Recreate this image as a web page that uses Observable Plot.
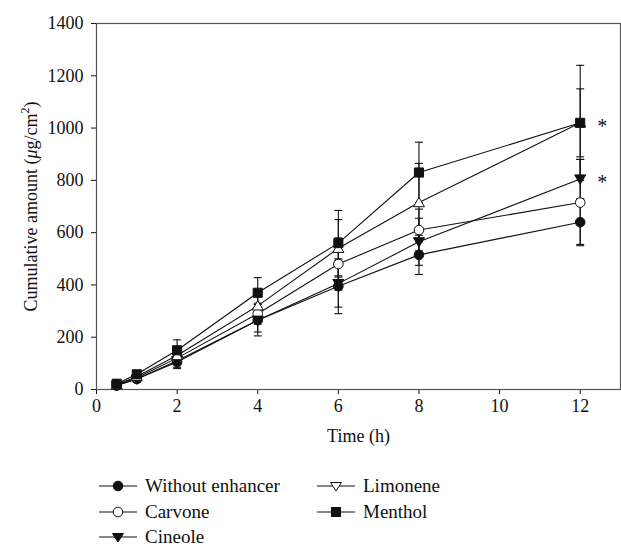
<!DOCTYPE html>
<html>
<head>
<meta charset="utf-8">
<script src="https://cdn.jsdelivr.net/npm/d3@7"></script>
<script src="https://cdn.jsdelivr.net/npm/@observablehq/plot@0.6"></script>
<style>
  body { margin: 0; background: #fff; font-family: "Liberation Serif", "DejaVu Serif", serif; }
  #chart { width: 621px; }
  .legend { display: grid; grid-template-columns: 218px 200px; margin-left: 99px; margin-top: 22px; row-gap: 1px; font-size: 19px; line-height: 22px; color: #111; }
  .legend div { display: flex; align-items: center; height: 24.5px; }
  .legend svg { margin-right: 2px; }
</style>
</head>
<body>
<div id="chart"></div>
<script>
const times = [0.5, 1, 2, 4, 6, 8, 12];
const seriesNames = ["Without enhancer", "Carvone", "Cineole", "Limonene", "Menthol"];
const withoutMean = [15, 40, 105, 265, 395, 515, 640];
const withoutErr  = [6, 12, 25, 60, 105, 75, 85];
const carvoneMean = [18, 45, 120, 290, 480, 610, 715];
const carvoneErr  = [6, 12, 25, 40, 100, 80, 165];
const cineoleMean = [15, 40, 110, 265, 405, 565, 805];
const cineoleErr  = [6, 12, 25, 45, 90, 90, 75];
const limoneneMean = [18, 50, 130, 320, 540, 715, 1020];
const limoneneErr  = [6, 12, 30, 45, 110, 150, 130];
const mentholMean = [22, 58, 150, 370, 560, 830, 1020];
const mentholErr  = [6, 14, 40, 58, 125, 116, 220];
const xTicks = [0, 2, 4, 6, 8, 10, 12];
const yTicks = [0, 200, 400, 600, 800, 1000, 1200, 1400];
const asterisks = [{t: 12, v: 1020, s: "*"}, {t: 12, v: 805, s: "*"}];

const means = [withoutMean, carvoneMean, cineoleMean, limoneneMean, mentholMean];
const errs = [withoutErr, carvoneErr, cineoleErr, limoneneErr, mentholErr];
const data = seriesNames.flatMap((name, i) => times.map((t, j) => ({
  series: name, t, v: means[i][j], lo: means[i][j] - errs[i][j], hi: means[i][j] + errs[i][j]
})));

const downTriangle = { draw(ctx, size) {
  const r = Math.sqrt(size / Math.PI) * 1.15;
  ctx.moveTo(-r, -r * 0.75); ctx.lineTo(r, -r * 0.75); ctx.lineTo(0, r * 0.95); ctx.closePath();
}};
const upTriangle = { draw(ctx, size) {
  const r = Math.sqrt(size / Math.PI) * 1.15;
  ctx.moveTo(-r, r * 0.75); ctx.lineTo(r, r * 0.75); ctx.lineTo(0, -r * 0.95); ctx.closePath();
}};
const squareSym = { draw(ctx, size) {
  const r = Math.sqrt(size / Math.PI) * 0.95;
  ctx.rect(-r, -r, 2 * r, 2 * r);
}};
const capSym = { draw(ctx, size) {
  const r = Math.sqrt(size / Math.PI);
  ctx.moveTo(-r, 0); ctx.lineTo(r, 0);
}};

const styles = {
  "Without enhancer": {symbol: "circle", fill: "#111"},
  "Carvone": {symbol: "circle", fill: "white"},
  "Cineole": {symbol: downTriangle, fill: "#111"},
  "Limonene": {symbol: upTriangle, fill: "white"},
  "Menthol": {symbol: squareSym, fill: "#111"}
};

const dotMarks = seriesNames.map(name => Plot.dot(data.filter(d => d.series === name), {
  x: "t", y: "v", r: 4.8, symbol: styles[name].symbol, fill: styles[name].fill, stroke: "#111", strokeWidth: 1
}));

const plot = Plot.plot({
  width: 621, height: 452,
  marginLeft: 96, marginRight: 1, marginTop: 23, marginBottom: 63,
  style: {fontFamily: "'Liberation Serif', 'DejaVu Serif', serif", fontSize: "18px", color: "#111", background: "white"},
  x: {domain: [0, 13], ticks: xTicks, tickFormat: d => String(d), tickSize: 5, label: "Time (h)", labelAnchor: "center", labelArrow: "none", labelOffset: 52, tickPadding: 5},
  y: {domain: [0, 1400], ticks: yTicks, tickFormat: d => String(d), tickSize: 5, label: "Cumulative amount (μg/cm²)", labelAnchor: "center", labelArrow: "none", labelOffset: 72, tickPadding: 8},
  marks: [
    Plot.frame({stroke: "#555", strokeWidth: 1.2}),
    Plot.line(data, {x: "t", y: "v", z: "series", stroke: "#111", strokeWidth: 1.1}),
    Plot.ruleX(data, {x: "t", y1: "lo", y2: "hi", stroke: "#111", strokeWidth: 1.1}),
    Plot.dot(data, {x: "t", y: "lo", r: 4, symbol: capSym, stroke: "#111", fill: "none", strokeWidth: 1.1}),
    Plot.dot(data, {x: "t", y: "hi", r: 4, symbol: capSym, stroke: "#111", fill: "none", strokeWidth: 1.1}),
    ...dotMarks,
    Plot.text(asterisks, {x: "t", y: "v", text: "s", dx: 22, dy: 4, fontSize: 20, fill: "#111"})
  ]
});
document.getElementById("chart").appendChild(plot);

// italic mu and superscript in y label
const yl = plot.querySelector('g[aria-label="y-axis label"] text');
if (yl) {
  yl.textContent = "";
  const parts = [["Cumulative amount (", {}], ["μ", {"font-style": "italic"}], ["g/cm", {}], ["2", {"font-size": "12px", "dy": "-8"}], [")", {"dy": "8"}]];
  for (const [txt, attrs] of parts) {
    const ts = document.createElementNS("http://www.w3.org/2000/svg", "tspan");
    ts.textContent = txt;
    for (const k in attrs) ts.setAttribute(k, attrs[k]);
    yl.appendChild(ts);
  }
}

// Legend
const legendOrder = ["Without enhancer", "Limonene", "Carvone", "Menthol", "Cineole"];
const legendSym = {
  "Without enhancer": '<circle cx="19" cy="8" r="4.8" fill="#111" stroke="#111"/>',
  "Carvone": '<circle cx="19" cy="8" r="4.8" fill="white" stroke="#111"/>',
  "Cineole": '<path d="M13.5,4.5 L24.5,4.5 L19,13 Z" fill="#111" stroke="#111"/>',
  "Limonene": '<path d="M13.5,4.5 L24.5,4.5 L19,13 Z" fill="white" stroke="#111"/>',
  "Menthol": '<rect x="14.5" y="3.5" width="9" height="9" fill="#111" stroke="#111"/>'
};
const leg = document.createElement("div");
leg.className = "legend";
for (const name of legendOrder) {
  const item = document.createElement("div");
  item.innerHTML = `<svg width="38" height="16"><line x1="0" x2="38" y1="8" y2="8" stroke="#111" stroke-width="1.2"/>${legendSym[name]}</svg><span style="margin-left:6px">${name}</span>`;
  leg.appendChild(item);
}
document.getElementById("chart").appendChild(leg);
</script>
</body>
</html>
